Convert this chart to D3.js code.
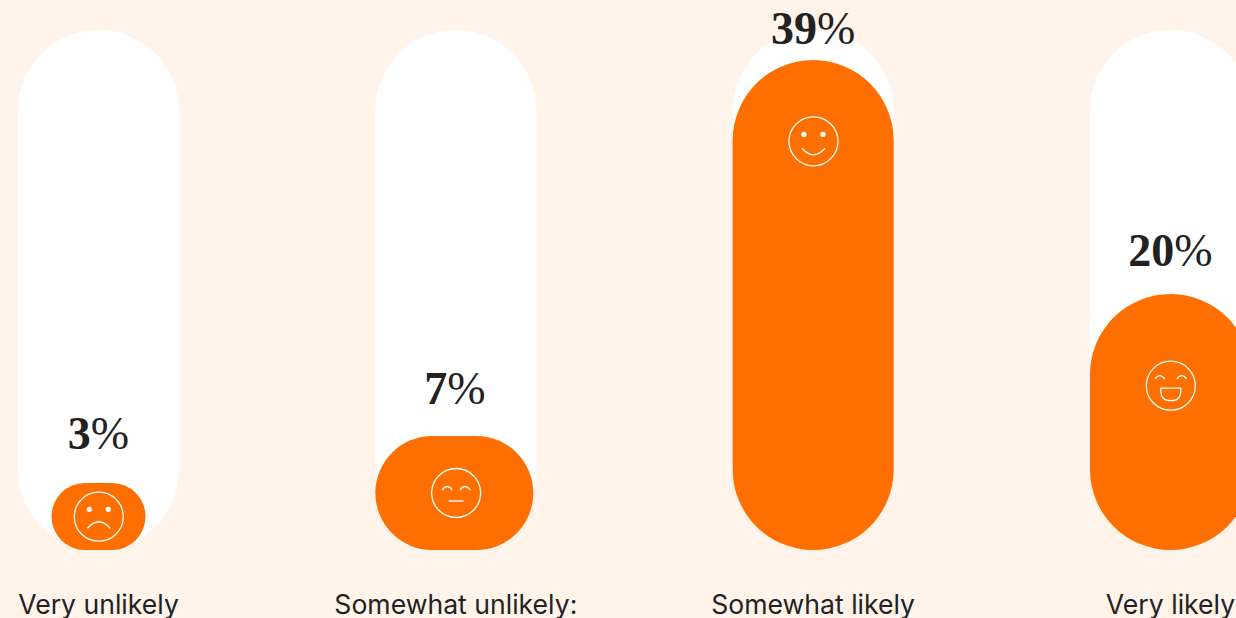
<!DOCTYPE html>
<html><head><meta charset="utf-8">
<script src="https://cdn.jsdelivr.net/npm/d3@7"></script>
<style>html,body{margin:0;padding:0;background:#FFF3EA;overflow:hidden}svg{display:block}</style>
</head><body><div id="c"></div>
<script>
const categories = ["Very unlikely","Somewhat unlikely:","Somewhat likely","Very likely"];
const values = [3,7,39,20];
const faces = ["sad","neutral","smile","laugh"];

const W=1236,H=618,trackW=161,trackTop=30,base=550,R=80.5;
const bg="#FFF3EA",orange="#FF6F00",ink="#222222";

const x=d3.scalePoint().domain(categories).range([98.5,1170.5]);
const sorted=[3,7,20,39];
const yTop=d3.scaleLinear().domain(sorted).range([483,436,294,60]);
const yLabel=d3.scaleLinear().domain(sorted).range([449,404,266,44]);
const yFace=d3.scaleLinear().domain(sorted).range([516.7,493,385.7,141.3]);
const width=d3.scaleLinear().domain([3,7,20]).range([94,158,161]).clamp(true);
const shift=d3.scaleLinear().domain([3,7,20]).range([0,-1.5,0]).clamp(true);

const svg=d3.select("#c").append("svg").attr("width",W).attr("height",H);
svg.append("rect").attr("width",W).attr("height",H).attr("fill",bg);

const data=categories.map((c,i)=>({c,v:values[i],f:faces[i]}));

svg.selectAll("rect.track").data(data).join("rect").attr("class","track")
  .attr("x",d=>x(d.c)-trackW/2).attr("y",trackTop)
  .attr("width",trackW).attr("height",base-trackTop)
  .attr("rx",R).attr("ry",R).attr("fill","#fff");

svg.selectAll("rect.fill").data(data).join("rect").attr("class","fill")
  .attr("x",d=>x(d.c)+shift(d.v)-width(d.v)/2).attr("y",d=>yTop(d.v))
  .attr("width",d=>width(d.v)).attr("height",d=>base-yTop(d.v))
  .attr("rx",d=>Math.min(R,(base-yTop(d.v))/2))
  .attr("ry",d=>Math.min(R,(base-yTop(d.v))/2))
  .attr("fill",orange);

const lab=svg.selectAll("text.val").data(data).join("text").attr("class","val")
  .attr("x",d=>x(d.c)+shift(d.v)*0.6).attr("y",d=>yLabel(d.v))
  .attr("text-anchor","middle")
  .attr("font-family","'Liberation Serif',serif").attr("font-size",46)
  .attr("fill",ink);
lab.append("tspan").attr("font-weight",700).text(d=>d.v);
lab.append("tspan").attr("font-weight",400).text("%");

svg.selectAll("text.cat").data(data).join("text").attr("class","cat")
  .attr("x",d=>x(d.c)).attr("y",613.5)
  .attr("text-anchor","middle")
  .attr("font-family","Inter,sans-serif").attr("font-size",26.6).attr("font-weight",400)
  .attr("fill",ink).text(d=>d.c);

const g=svg.selectAll("g.face").data(data).join("g").attr("class","face")
  .attr("transform",d=>`translate(${x(d.c)+0.3},${yFace(d.v)})`)
  .attr("fill","none").attr("stroke","#fff").attr("stroke-width",1.3);
g.append("circle").attr("r",24.5);
function eyesDots(s,cy){[-9.5,9.5].forEach(e=>s.append("circle").attr("cx",e).attr("cy",cy).attr("r",2.6).attr("fill","#fff").attr("stroke","none"));}
function eyesArc(s,ex,cy){[-ex,ex].forEach(e=>s.append("path").attr("d",`M${e-5},${cy+2.5} Q${e},${cy-4.5} ${e+5},${cy+2.5}`));}
g.each(function(d){
  const s=d3.select(this);
  if(d.f==="sad"){eyesDots(s,-7.4);s.append("path").attr("d","M-11.3,11.6 Q0,-1.5 11.3,11.6");}
  if(d.f==="neutral"){eyesArc(s,9,-5.5);s.append("path").attr("d","M-7.5,8 H7.5");}
  if(d.f==="smile"){eyesDots(s,-6.9);s.append("path").attr("d","M-11.5,7 Q0,20 11.5,7");}
  if(d.f==="laugh"){eyesArc(s,11,-9);s.append("path").attr("d","M-10,2.5 H10 V5 Q10,15 0,15 Q-10,15 -10,5 Z");}
});
</script></body></html>
